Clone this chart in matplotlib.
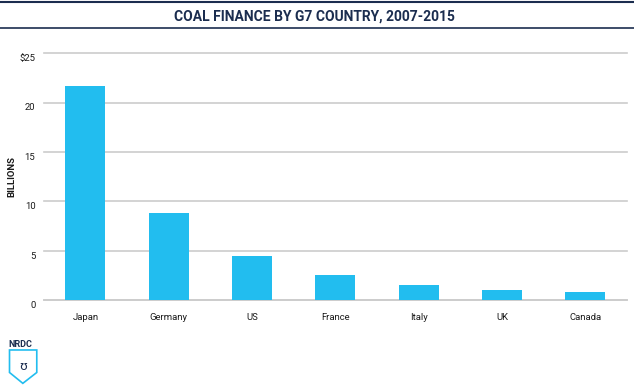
import numpy as np
import matplotlib
matplotlib.use('Agg')
import matplotlib.pyplot as plt
import matplotlib.transforms as mtransforms
from matplotlib.patches import PathPatch
from matplotlib.path import Path

# Data (billions of USD, 2007-2015)
countries = ['Japan', 'Germany', 'US', 'France', 'Italy', 'UK', 'Canada']
finance = [21.7, 8.8, 4.5, 2.6, 1.5, 1.0, 0.8]
yticks = [0, 5, 10, 15, 20, 25]
ytick_labels = ['0', '5', '10', '15', '20', '$25']

NAVY = '#1b2d4f'
BLUE = '#22bdef'
GRID = '#cccccc'
FONT = ['Roboto', 'DejaVu Sans']

fig = plt.figure(figsize=(6.34, 3.88), dpi=100)
ax = fig.add_axes([0.069, 0.226, 0.920, 0.637])

x = np.arange(len(countries))
ax.bar(x, finance, width=0.48, color=BLUE, zorder=3)

ax.set_xlim(-0.5, len(countries) - 0.5)
ax.set_ylim(0, 25)
ax.set_yticks(yticks)
ax.set_yticklabels(ytick_labels, fontsize=6.8, family=FONT, color='#1a1a1a')
ax.set_xticks(x)
ax.set_xticklabels(countries, fontsize=6.8, family=FONT, color='#1a1a1a')
ax.tick_params(axis='both', length=0)
ax.tick_params(axis='y', pad=6)
ax.tick_params(axis='x', pad=9)

# y labels sit a little below their gridlines in the original
offset = mtransforms.ScaledTranslation(0, -3 / 72, fig.dpi_scale_trans)
for lbl in ax.get_yticklabels():
    lbl.set_transform(lbl.get_transform() + offset)

ax.yaxis.grid(True, color=GRID, linewidth=1.2, zorder=0)
for gl in ax.get_ygridlines():
    gl.set_clip_on(False)
ax.set_axisbelow(True)
for s in ['top', 'right', 'left']:
    ax.spines[s].set_visible(False)
ax.spines['bottom'].set_color(GRID)
ax.spines['bottom'].set_linewidth(1.2)

ax.set_ylabel('BILLIONS', fontsize=6.8, family=FONT, fontweight='bold', color='#1a1a1a')
ax.yaxis.set_label_coords(-0.047, 0.5)

# Title band with rules above and below
fig.add_artist(plt.Line2D([0, 1], [0.995, 0.995], transform=fig.transFigure, color=NAVY, linewidth=1.5))
fig.add_artist(plt.Line2D([0, 1], [0.927, 0.927], transform=fig.transFigure, color=NAVY, linewidth=1.2))
fig.text(0.496, 0.957, 'COAL FINANCE BY G7 COUNTRY, 2007-2015', ha='center', va='center',
         fontsize=10, fontweight='bold', family=FONT, color=NAVY)

# NRDC logo (simplified)
fig.text(0.013, 0.112, 'NRDC', fontsize=6.5, fontweight='bold', family=FONT, color=NAVY,
         ha='left', va='center')
verts = [(0.015, 0.098), (0.058, 0.098), (0.058, 0.040), (0.036, 0.012),
         (0.015, 0.040), (0.015, 0.098)]
codes = [Path.MOVETO, Path.LINETO, Path.LINETO, Path.LINETO, Path.LINETO, Path.CLOSEPOLY]
fig.add_artist(PathPatch(Path(verts, codes), transform=fig.transFigure,
                         facecolor='none', edgecolor=BLUE, linewidth=1.2))
fig.text(0.036, 0.055, 'ʊ', fontsize=9, color=NAVY, ha='center', va='center')

fig.savefig('out.png', dpi=100, facecolor='white')
